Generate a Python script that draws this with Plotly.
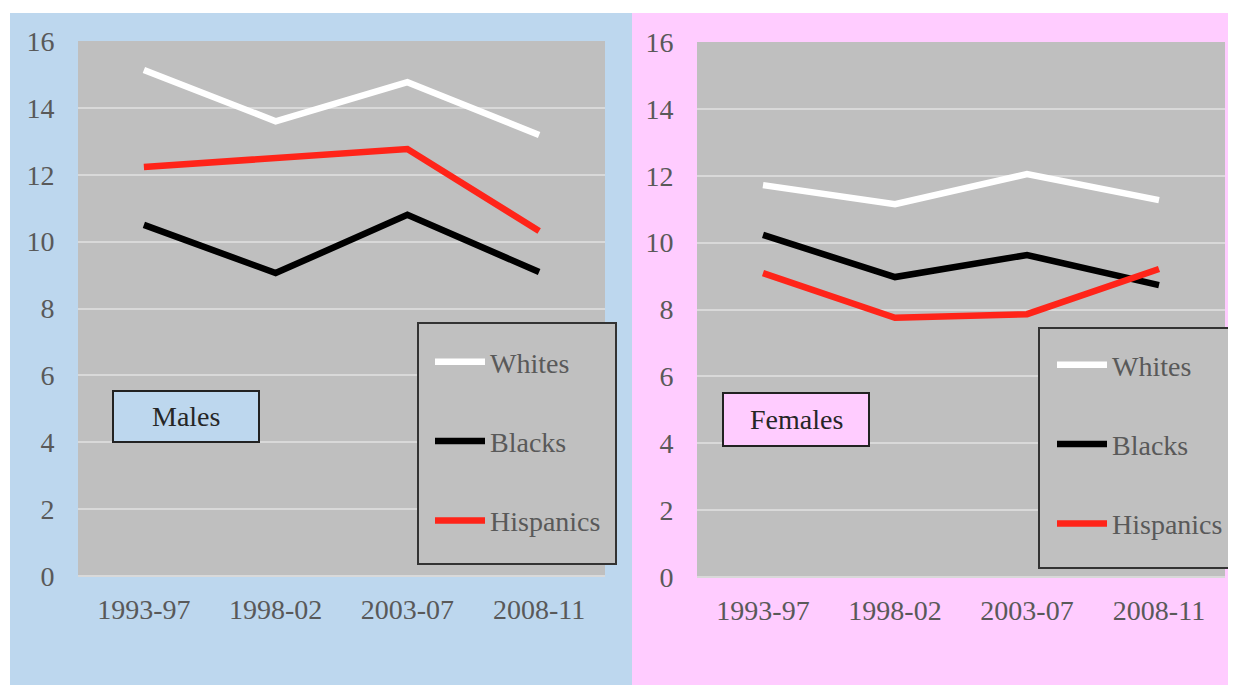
import plotly.graph_objects as go

periods = ["1993-97", "1998-02", "2003-07", "2008-11"]
series_names = ["Whites", "Blacks", "Hispanics"]

males_whites = [15.13, 13.6, 14.77, 13.19]
males_blacks = [10.5, 9.06, 10.8, 9.09]
males_hispanics = [12.23, 12.5, 12.77, 10.32]

females_whites = [11.72, 11.15, 12.05, 11.27]
females_blacks = [10.23, 8.97, 9.63, 8.73]
females_hispanics = [9.09, 7.75, 7.86, 9.21]

y_ticks = [0, 2, 4, 6, 8, 10, 12, 14, 16]

colors = {"Whites": "#FFFFFF", "Blacks": "#000000", "Hispanics": "#FF2419"}
# page body has an 8px margin; figure sized so the page fits the window exactly
OFF = 8
W, H = 1236 - 2 * OFF, 693 - 2 * OFF
FONT = "Liberation Serif, Times New Roman, serif"


def px_x(p):
    return (p - OFF) / W


def px_y(p):
    return 1 - (p - OFF) / H


fig = go.Figure()

male_vals = {"Whites": males_whites, "Blacks": males_blacks, "Hispanics": males_hispanics}
female_vals = {"Whites": females_whites, "Blacks": females_blacks, "Hispanics": females_hispanics}

for name in series_names:
    fig.add_trace(go.Scatter(
        x=periods, y=male_vals[name], mode="lines", name=name,
        line=dict(color=colors[name], width=6.5), legend="legend",
        legendgroup="m" + name, xaxis="x", yaxis="y", hoverinfo="x+y+name"))
for name in series_names:
    fig.add_trace(go.Scatter(
        x=periods, y=female_vals[name], mode="lines", name=name,
        line=dict(color=colors[name], width=6.5), legend="legend2",
        legendgroup="f" + name, xaxis="x2", yaxis="y2", hoverinfo="x+y+name"))

tickfont = dict(family=FONT, size=28, color="#595959")

xcommon = dict(type="category", range=[-0.5, 3.5], showgrid=False, showline=False,
               ticks="outside", ticklen=8, tickcolor="rgba(0,0,0,0)", automargin=False,
               tickfont=tickfont, fixedrange=True)
ycommon = dict(range=[0, 16], tickvals=y_ticks, showgrid=True, gridcolor="#D9D9D9",
               gridwidth=1.5, zeroline=True, zerolinecolor="#D9D9D9", zerolinewidth=2,
               showline=False, ticks="outside", ticklen=17, tickcolor="rgba(0,0,0,0)",
               automargin=False, tickfont=tickfont, fixedrange=True)

legend_common = dict(bgcolor="rgba(0,0,0,0)", borderwidth=0,
                     font=dict(family=FONT, size=28, color="#595959"),
                     tracegroupgap=40, itemwidth=50, xanchor="left", yanchor="top")

shapes = [
    # panel backgrounds
    dict(type="rect", xref="paper", yref="paper", x0=px_x(10), x1=px_x(632),
         y0=0, y1=px_y(13), fillcolor="#BDD7EE", line=dict(width=0), layer="below"),
    dict(type="rect", xref="paper", yref="paper", x0=px_x(632), x1=1,
         y0=0, y1=px_y(13), fillcolor="#FFCCFF", line=dict(width=0), layer="below"),
    # plot area fills
    dict(type="rect", xref="x domain", yref="y domain", x0=0, x1=1, y0=0, y1=1,
         fillcolor="#BFBFBF", line=dict(width=0), layer="below"),
    dict(type="rect", xref="x2 domain", yref="y2 domain", x0=0, x1=1, y0=0, y1=1,
         fillcolor="#BFBFBF", line=dict(width=0), layer="below"),
    # legend boxes
    dict(type="rect", xref="paper", yref="paper", x0=px_x(418), x1=px_x(616),
         y0=px_y(564), y1=px_y(323), fillcolor="#C0C0C0",
         line=dict(color="#333333", width=2), layer="above"),
    dict(type="rect", xref="paper", yref="paper", x0=px_x(1039), x1=px_x(1235),
         y0=px_y(568), y1=px_y(328), fillcolor="#C0C0C0",
         line=dict(color="#333333", width=2), layer="above"),
    # title boxes
    dict(type="rect", xref="paper", yref="paper", x0=px_x(113), x1=px_x(259),
         y0=px_y(442), y1=px_y(391), fillcolor="#BDD7EE",
         line=dict(color="#222222", width=2), layer="above"),
    dict(type="rect", xref="paper", yref="paper", x0=px_x(723), x1=px_x(869),
         y0=px_y(446), y1=px_y(393), fillcolor="#FFCCFF",
         line=dict(color="#222222", width=2), layer="above"),
]

annotations = [
    dict(text="Males", xref="paper", yref="paper", x=px_x(186), y=px_y(416.5),
         showarrow=False, xanchor="center", yanchor="middle",
         font=dict(family=FONT, size=28, color="#262626")),
    dict(text="Females", xref="paper", yref="paper", x=px_x(796), y=px_y(419.5),
         showarrow=False, xanchor="center", yanchor="middle",
         font=dict(family=FONT, size=28, color="#262626")),
]

fig.update_layout(
    width=W, height=H,
    margin=dict(l=0, r=0, t=0, b=0, pad=0),
    paper_bgcolor="#FFFFFF",
    plot_bgcolor="#BFBFBF",
    showlegend=True,
    xaxis=dict(domain=[px_x(78), px_x(605)], anchor="y", **xcommon),
    yaxis=dict(domain=[px_y(576), px_y(41)], anchor="x", **ycommon),
    xaxis2=dict(domain=[px_x(697), px_x(1225)], anchor="y2", **xcommon),
    yaxis2=dict(domain=[px_y(577), px_y(42)], anchor="x2", **ycommon),
    legend=dict(x=px_x(430), y=px_y(337), **legend_common),
    legend2=dict(x=px_x(1052), y=px_y(340), **legend_common),
    shapes=shapes,
    annotations=annotations,
)

fig.write_html("out.html")
